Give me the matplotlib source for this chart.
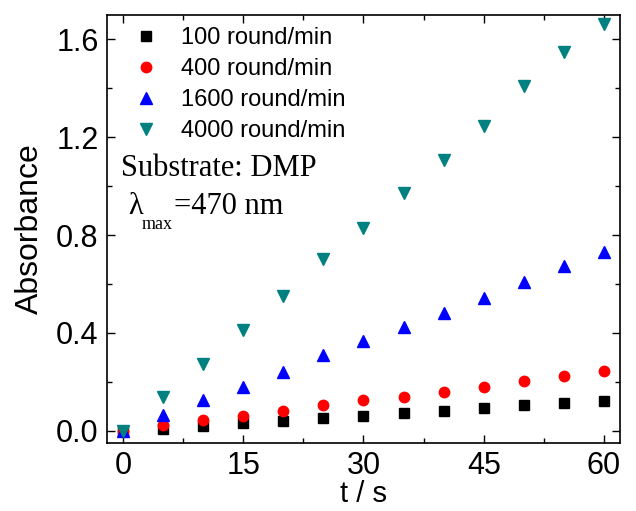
import numpy as np
import matplotlib
matplotlib.use("Agg")
import matplotlib.pyplot as plt
from matplotlib.ticker import MultipleLocator

t = [0, 5, 10, 15, 20, 25, 30, 35, 40, 45, 50, 55, 60]
abs_100 = [0.0, 0.008, 0.020, 0.031, 0.041, 0.053, 0.061, 0.073, 0.082, 0.093, 0.105, 0.113, 0.122]
abs_400 = [0.0, 0.022, 0.044, 0.061, 0.079, 0.105, 0.124, 0.140, 0.158, 0.178, 0.204, 0.222, 0.244]
abs_1600 = [0.0, 0.063, 0.125, 0.181, 0.240, 0.309, 0.366, 0.423, 0.480, 0.541, 0.608, 0.673, 0.732]
abs_4000 = [0.0, 0.140, 0.272, 0.412, 0.551, 0.702, 0.829, 0.971, 1.107, 1.246, 1.410, 1.550, 1.663]
labels = ["100 round/min", "400 round/min", "1600 round/min", "4000 round/min"]

plt.rcParams['font.family'] = ['Liberation Sans', 'DejaVu Sans']

fig = plt.figure(figsize=(6.36, 5.11), dpi=100)
ax = fig.add_axes([0.168, 0.133, 0.807, 0.838])

ax.plot(t, abs_100, 's', color='black', ms=6.5, label=labels[0])
ax.plot(t, abs_400, 'o', color='red', ms=7.5, label=labels[1])
ax.plot(t, abs_1600, '^', color='blue', ms=9, label=labels[2])
ax.plot(t, abs_4000, 'v', color='#008080', ms=9, label=labels[3])

ax.set_xlim(-2, 62)
ax.set_ylim(-0.05, 1.7)
ax.xaxis.set_major_locator(MultipleLocator(15))
ax.xaxis.set_minor_locator(MultipleLocator(7.5))
ax.yaxis.set_major_locator(MultipleLocator(0.4))
ax.yaxis.set_minor_locator(MultipleLocator(0.2))
ax.tick_params(which='both', direction='in', top=True, right=True, labelsize=22, width=1)
ax.tick_params(which='major', length=6)
ax.tick_params(which='minor', length=3.5)
ax.tick_params(axis='y', pad=6)
ax.tick_params(axis='x', pad=6)
for s in ax.spines.values():
    s.set_linewidth(1.2)

ax.set_xlabel('t / s', fontsize=21, labelpad=-1)
ax.set_ylabel('Absorbance', fontsize=23, labelpad=8)

ax.legend(loc='upper left', frameon=False, fontsize=17, handletextpad=0.9,
          labelspacing=0.38, borderaxespad=0.0, handlelength=1.2,
          borderpad=0.3, bbox_to_anchor=(0.035, 0.988))

ax.text(0.027, 0.64, 'Substrate: DMP', transform=ax.transAxes,
        family='Liberation Serif', fontsize=22, va='center')
ax.text(0.041, 0.553, 'λ', transform=ax.transAxes,
        family='Liberation Serif', fontsize=22, va='center')
ax.text(0.068, 0.511, 'max', transform=ax.transAxes,
        family='Liberation Serif', fontsize=13, va='center')
ax.text(0.131, 0.553, '=470 nm', transform=ax.transAxes,
        family='Liberation Serif', fontsize=22, va='center')

fig.savefig('out.png', dpi=100)
